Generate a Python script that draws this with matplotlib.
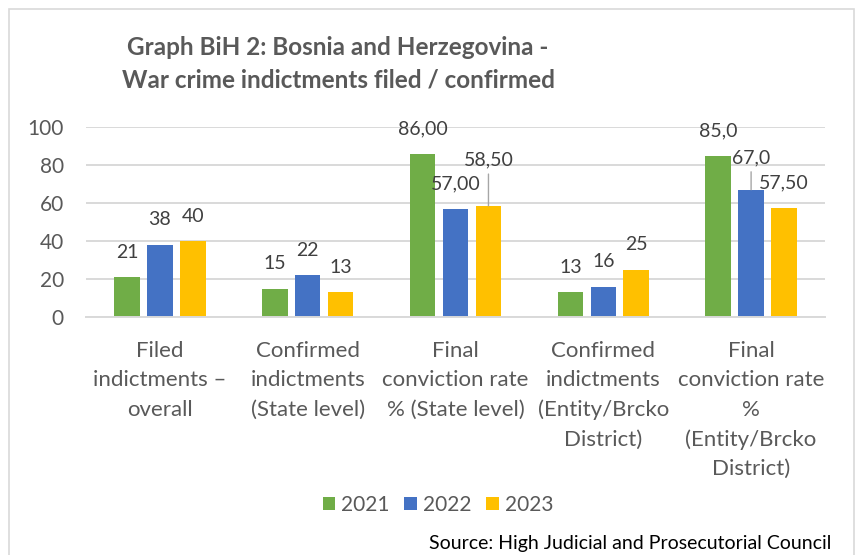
import numpy as np
import matplotlib.pyplot as plt
from matplotlib.patches import Rectangle

plt.rcParams['font.family'] = ['Lato', 'DejaVu Sans']

# ================== Data ==================
categories = [
    "Filed\nindictments –\noverall",
    "Confirmed\nindictments\n(State level)",
    "Final\nconviction rate\n% (State level)",
    "Confirmed\nindictments\n(Entity/Brcko\nDistrict)",
    "Final\nconviction rate\n%\n(Entity/Brcko\nDistrict)",
]
years = ["2021", "2022", "2023"]
v2021 = [21, 15, 86.00, 13, 85.0]
v2022 = [38, 22, 57.00, 16, 67.0]
v2023 = [40, 13, 58.50, 25, 57.50]
lab2021 = ["21", "15", "86,00", "13", "85,0"]
lab2022 = ["38", "22", "57,00", "16", "67,0"]
lab2023 = ["40", "13", "58,50", "25", "57,50"]
yticks = [0, 20, 40, 60, 80, 100]

colors = ["#70AD47", "#4472C4", "#FFC000"]
text_grey = "#595959"
label_grey = "#404040"

# labels moved up by Excel (series index, category index) -> extra points
moved = {(2, 2): 15, (1, 4): 5}

# ================== Figure ==================
fig = plt.figure(figsize=(8.57, 5.55), dpi=100)
ax = fig.add_axes([86 / 857, (555 - 317) / 555, (825 - 86) / 857, (317 - 127) / 555])

x = np.arange(len(categories))
width = 0.173
offset = 0.223
series = [v2021, v2022, v2023]
labels = [lab2021, lab2022, lab2023]

for i, (vals, labs) in enumerate(zip(series, labels)):
    xs = x + (i - 1) * offset
    ax.bar(xs, vals, width=width, color=colors[i], label=years[i], zorder=2)
    for j, (xx, v, s) in enumerate(zip(xs, vals, labs)):
        extra = moved.get((i, j), 0)
        if extra:
            ax.annotate(s, xy=(xx, v), xytext=(0, 18 + extra), textcoords='offset points',
                        ha='center', va='center', fontsize=14, color=label_grey, zorder=4,
                        arrowprops=dict(arrowstyle='-', color='#a6a6a6', lw=1.0,
                                        shrinkA=2, shrinkB=0))
        else:
            ax.annotate(s, xy=(xx, v), xytext=(0, 18), textcoords='offset points',
                        ha='center', va='center', fontsize=14, color=label_grey, zorder=4)

ax.set_ylim(0, 100)
ax.set_xlim(-0.5, len(categories) - 0.5)
ax.set_yticks(yticks)
ax.set_yticklabels([str(t) for t in yticks], fontsize=15, color=text_grey)
ax.set_xticks(x)
ax.set_xticklabels(categories, fontsize=16, color=text_grey, linespacing=1.57, va='top')
ax.tick_params(axis='both', length=0)
ax.tick_params(axis='x', pad=17.5)
ax.tick_params(axis='y', pad=16)
ax.grid(axis='y', color='#d9d9d9', linewidth=1.4, zorder=0)
ax.set_axisbelow(True)
for sp in ['top', 'right', 'left']:
    ax.spines[sp].set_visible(False)
ax.spines['bottom'].set_color('#d9d9d9')
ax.spines['bottom'].set_linewidth(1.4)

# Title
fig.text(338 / 857, 1 - 64 / 555,
         "Graph BiH 2: Bosnia and Herzegovina -\nWar crime indictments filed / confirmed",
         ha='center', va='center', fontsize=17.5, fontweight='bold', color=text_grey,
         linespacing=1.5)

# Legend
fig.legend(loc='center', bbox_to_anchor=(438 / 857, 1 - 505 / 555), ncol=3, frameon=False,
           fontsize=15, handlelength=0.6, handleheight=0.6, handletextpad=0.3,
           columnspacing=0.7, labelcolor=text_grey)

# Source
fig.text(831 / 857, 1 - 543 / 555, "Source: High Judicial and Prosecutorial Council",
         ha='right', va='center', fontsize=14, color='black')

# Border
fig.patches.append(Rectangle((9 / 857, -0.02), 845 / 857, 1 - 9 / 555 + 0.02,
                             transform=fig.transFigure, fill=False,
                             edgecolor='#d9d9d9', linewidth=1.2))

fig.savefig('out.png', dpi=100)
